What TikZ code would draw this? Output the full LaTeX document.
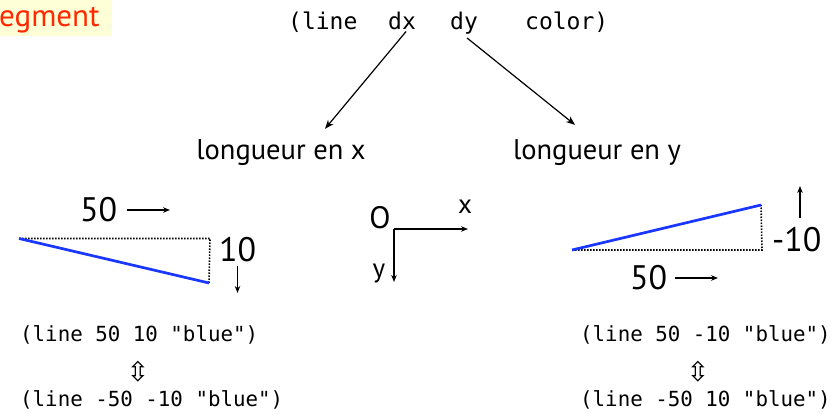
\documentclass[tikz,border=0pt]{standalone}
\usepackage{fontspec}
\setmainfont{PT Sans}
\setmonofont{DejaVu Sans Mono}
\newfontfamily\symfont{DejaVu Sans}
\usetikzlibrary{arrows.meta,calc}
\definecolor{titlered}{RGB}{255,40,0}
\definecolor{titlebg}{RGB}{255,255,215}
\definecolor{segblue}{RGB}{25,55,255}
\tikzset{
  code/.style={font=\ttfamily\fontsize{20.8}{22}\selectfont, inner sep=0pt},
  bigcode/.style={font=\ttfamily\fontsize{23}{25}\selectfont, inner sep=0pt},
  label/.style={font=\fontsize{28.5}{30}\selectfont, inner sep=0pt},
  num/.style={font=\fontsize{34}{36}\selectfont, inner sep=0pt},
  axislabel/.style={font=\fontsize{27}{29}\selectfont, inner sep=0pt},
  equiv/.style={font=\symfont\fontsize{27}{29}\selectfont, inner sep=0pt},
  pointer/.style={-{Stealth[length=9pt,width=7pt]}, line width=1.2pt},
  smallarrow/.style={-{Stealth[length=7pt,width=5.5pt]}, line width=1.2pt},
  guide/.style={line width=1.6pt, dash pattern=on 1.5pt off 1.5pt},
  segline/.style={segblue, line width=2.7pt},
}
\begin{document}
\begin{tikzpicture}[x=1pt,y=-1pt]
\useasboundingbox (0,0) rectangle (836,419);

% title tab
\fill[titlebg] (0,0) rectangle (112,36);
\node[font=\fontsize{31}{33}\selectfont, text=titlered, inner sep=0pt, anchor=base west] (title) at (-1,27) {egment};

% the call and its arguments
\node[bigcode, anchor=base west] (call) at (288,30) {(line};
\node[bigcode, anchor=base west] (dx) at (388,30) {dx};
\node[bigcode, anchor=base west] (dy) at (450,30) {dy};
\node[bigcode, anchor=base west] (col) at (525,30) {color)};

\node[label, anchor=base] (lx) at (281,160) {longueur en x};
\node[label, anchor=base] (ly) at (597,160) {longueur en y};

\draw[pointer] ([xshift=4pt,yshift=-1pt]dx.south) -- ([xshift=44pt,yshift=11pt]lx.north);
\draw[pointer] ([xshift=3pt,yshift=-3pt]dy.south) -- ([xshift=-22pt,yshift=15pt]ly.north);

% left example: dx = 50, dy = 10
\coordinate (la) at (19,238.5);
\coordinate (lb) at (210,238.5);
\coordinate (lc) at (209,283);
\draw[guide] (la) -- (lb) -- (lc);
\draw[segline] (la) -- (lc);
\node[num, anchor=base west] (ldx) at (80,222) {50};
\coordinate (ldxa) at (127,210);
\coordinate (ldxb) at (170,210);
\draw[smallarrow] (ldxa) -- (ldxb);
\node[num, anchor=base west] (ldy) at (219,262) {10};
\coordinate (ldya) at (237.5,266);
\coordinate (ldyb) at (237.5,293);
\draw[smallarrow] (ldya) -- (ldyb);

% axes of the screen
\coordinate (orig) at (394,229);
\coordinate (xend) at (468,229);
\coordinate (yend) at (394,282);
\draw[smallarrow] (orig) -- (xend);
\draw[smallarrow] (orig) -- (yend);
\node[axislabel, font=\fontsize{31}{33}\selectfont] (ol) at (380,218) {O};
\node[axislabel] (xl) at (465,207) {x};
\node[axislabel] (yl) at (379,274) {y};

% right example: dx = 50, dy = -10
\coordinate (ra) at (572,250);
\coordinate (rb) at (762,250);
\coordinate (rc) at (761,205);
\draw[guide] (ra) -- (rb) -- (rc);
\draw[segline] (ra) -- (rc);
\node[num, anchor=base west] (rdx) at (630,290) {50};
\coordinate (rdxa) at (675,278);
\coordinate (rdxb) at (718,278);
\draw[smallarrow] (rdxa) -- (rdxb);
\node[num, anchor=base west] (rdy) at (772,252) {-10};
\coordinate (rdya) at (800,218);
\coordinate (rdyb) at (800,186);
\draw[smallarrow] (rdya) -- (rdyb);

% equivalent calls
\node[code, anchor=base west] (l1) at (20,342) {(line 50 10 "blue")};
\node[equiv] (leq) at (138,372) {⇳};
\node[code, anchor=base west] (l2) at (20,407) {(line -50 -10 "blue")};
\node[code, anchor=base west] (r1) at (580,342) {(line 50 -10 "blue")};
\node[equiv] (req) at (698,372) {⇳};
\node[code, anchor=base west] (r2) at (580,407) {(line -50 10 "blue")};
\end{tikzpicture}
\end{document}
